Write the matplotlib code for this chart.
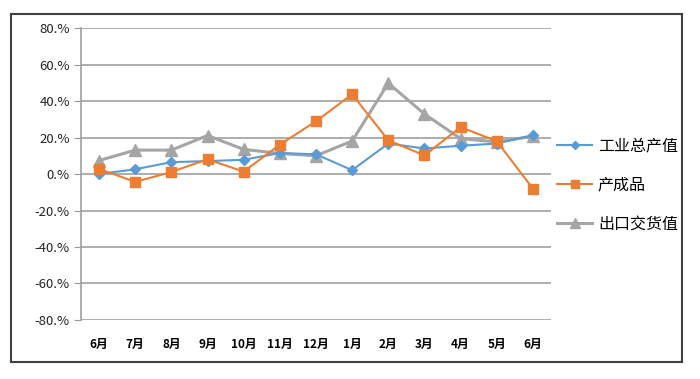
import matplotlib.pyplot as plt
from matplotlib.patches import Rectangle
from matplotlib.ticker import FuncFormatter

plt.rcParams['font.family'] = ['Noto Sans CJK SC', 'DejaVu Sans']

months = ['6月', '7月', '8月', '9月', '10月', '11月', '12月', '1月', '2月', '3月', '4月', '5月', '6月']
industry = [0.0, 2.6, 6.5, 7.1, 7.8, 11.5, 10.8, 2.1, 16.7, 14.0, 15.5, 16.7, 21.3]
products = [2.8, -4.3, 1.1, 8.1, 1.3, 16.1, 28.9, 43.7, 18.5, 10.2, 25.7, 18.0, -8.0]
exports = [7.4, 13.1, 13.1, 21.1, 13.5, 11.3, 10.0, 18.1, 49.8, 32.9, 19.4, 17.6, 20.7]
names = ['工业总产值', '产成品', '出口交货值']

fig = plt.figure(figsize=(7, 3.79), dpi=100)
fig.patches.append(Rectangle((0.0157, 0.045), 0.958, 0.918, transform=fig.transFigure,
                             fill=False, edgecolor='#404040', linewidth=1.5))

ax = fig.add_axes([0.1157, 0.1557, 0.6714, 0.7703])
x = list(range(len(months)))
ax.plot(x, industry, color='#5B9BD5', marker='D', markersize=5, linewidth=1.5, label=names[0], zorder=3)
ax.plot(x, products, color='#ED7D31', marker='s', markersize=7, linewidth=1.5, label=names[1], zorder=3)
ax.plot(x, exports, color='#A5A5A5', marker='^', markersize=8, linewidth=2.2, label=names[2], zorder=2)

ax.set_ylim(-80, 80)
ax.set_yticks(range(-80, 81, 20))
ax.yaxis.set_major_formatter(FuncFormatter(lambda v, p: '%d.%%' % v))
ax.set_xlim(-0.5, 12.5)
ax.set_xticks(x)
ax.set_xticklabels(months, fontweight='bold', fontsize=8.5)
ax.tick_params(axis='x', length=0, pad=13)
ax.tick_params(axis='y', length=5, color='#999999', labelsize=9.5, labelcolor='#222222', pad=3)
ax.grid(axis='y', color='#A0A0A0', linewidth=1.2)
ax.set_axisbelow(True)
for s in ['top', 'right', 'bottom']:
    ax.spines[s].set_visible(False)
ax.spines['left'].set_color('#A0A0A0')
ax.spines['left'].set_linewidth(1.2)

leg = fig.legend(loc='center left', bbox_to_anchor=(0.796, 0.512), frameon=False, fontsize=11.5,
                 labelspacing=1.4, handlelength=2.2, handletextpad=0.35,
                 borderpad=0, borderaxespad=0, markerscale=0.85)

plt.savefig('out.png', dpi=100)
